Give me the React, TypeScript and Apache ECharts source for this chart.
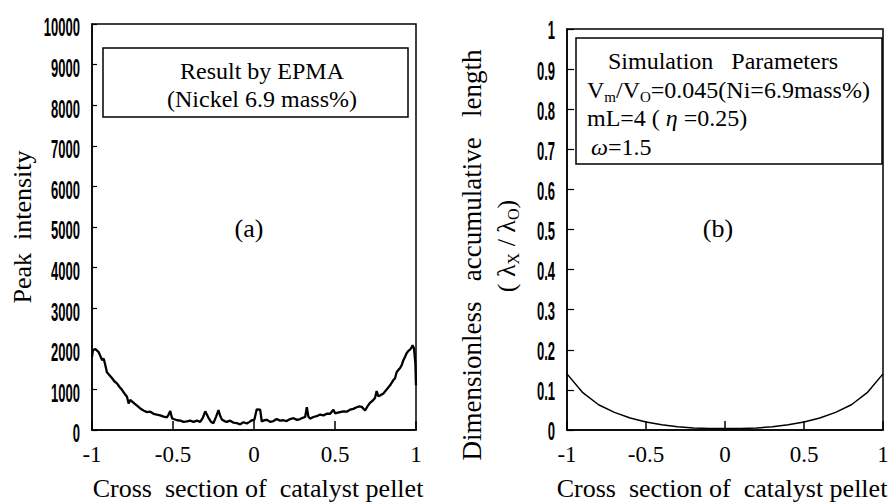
import React, { useEffect, useRef } from "react";
import * as echarts from "echarts";

const xTicks = [-1, -0.5, 0, 0.5, 1];
const leftYTicks = [0, 1000, 2000, 3000, 4000, 5000, 6000, 7000, 8000, 9000, 10000];
const rightYTicks = ["0", "0.1", "0.2", "0.3", "0.4", "0.5", "0.6", "0.7", "0.8", "0.9", "1"];

const epmaX = [-1, -0.994, -0.979, -0.959, -0.938, -0.928, -0.918, -0.908, -0.892, -0.877, -0.862, -0.846, -0.83, -0.815, -0.8, -0.784, -0.774, -0.764, -0.743, -0.722, -0.702, -0.682, -0.661, -0.64, -0.62, -0.6, -0.579, -0.558, -0.538, -0.527, -0.517, -0.506, -0.496, -0.475, -0.455, -0.434, -0.414, -0.394, -0.373, -0.352, -0.332, -0.316, -0.301, -0.291, -0.281, -0.265, -0.25, -0.234, -0.219, -0.209, -0.198, -0.183, -0.168, -0.147, -0.126, -0.106, -0.085, -0.065, -0.044, -0.028, -0.013, 0.002, 0.017, 0.038, 0.048, 0.063, 0.079, 0.1, 0.12, 0.14, 0.161, 0.181, 0.202, 0.223, 0.244, 0.265, 0.285, 0.3, 0.316, 0.326, 0.336, 0.346, 0.367, 0.387, 0.408, 0.429, 0.449, 0.47, 0.49, 0.501, 0.511, 0.531, 0.552, 0.572, 0.593, 0.613, 0.634, 0.65, 0.665, 0.686, 0.7, 0.716, 0.732, 0.747, 0.757, 0.768, 0.778, 0.799, 0.819, 0.84, 0.86, 0.87, 0.881, 0.891, 0.901, 0.912, 0.922, 0.932, 0.942, 0.953, 0.963, 0.971, 0.979, 0.988, 0.996, 1];
const epmaY = [1800, 1970, 1990, 1920, 1720, 1760, 1600, 1420, 1350, 1280, 1200, 1150, 1060, 990, 900, 820, 650, 740, 670, 600, 530, 480, 440, 450, 400, 380, 360, 330, 310, 380, 470, 290, 270, 240, 230, 200, 210, 230, 200, 230, 200, 300, 460, 380, 300, 200, 170, 330, 490, 350, 260, 220, 200, 230, 180, 170, 140, 190, 160, 200, 240, 250, 510, 500, 210, 240, 250, 200, 220, 270, 230, 240, 220, 270, 290, 250, 270, 300, 320, 560, 330, 280, 320, 340, 380, 360, 400, 400, 500, 410, 420, 440, 460, 450, 500, 520, 560, 580, 570, 480, 580, 670, 720, 790, 960, 830, 850, 900, 1000, 1100, 1230, 1270, 1430, 1480, 1520, 1600, 1720, 1800, 1890, 1950, 1980, 2020, 2090, 2000, 1650, 1100];

const simX = [-1, -0.9, -0.8, -0.7, -0.6, -0.5, -0.4, -0.3, -0.2, -0.1, 0, 0.1, 0.2, 0.3, 0.4, 0.5, 0.6, 0.7, 0.8, 0.9, 1];
const simY = [0.14, 0.093, 0.063, 0.044, 0.03, 0.02, 0.013, 0.008, 0.005, 0.004, 0.004, 0.004, 0.005, 0.008, 0.013, 0.02, 0.03, 0.044, 0.063, 0.093, 0.14];

const SERIF = '"Liberation Serif", "Times New Roman", serif';
const SANS = '"Liberation Sans", Arial, sans-serif';

export default function App() {
  const ref = useRef<HTMLDivElement>(null);
  useEffect(() => {
    if (!ref.current) return;
    const chart = echarts.init(ref.current, null, { renderer: "svg" });
    const axisLine = { show: true, onZero: false, lineStyle: { color: "#000", width: 1.5 } };
    const xAxisFor = (gi: number) => ({
      gridIndex: gi,
      type: "value",
      min: xTicks[0],
      max: xTicks[xTicks.length - 1],
      interval: 0.5,
      axisLine,
      splitLine: { show: false },
      axisTick: { show: true, inside: true, length: 9, lineStyle: { color: "#000", width: 1.5 } },
      axisLabel: {
        color: "#000",
        fontFamily: SERIF,
        fontSize: 23,
        margin: 13,
        formatter: (v: number) => String(v),
      },
    });
    chart.setOption({
      animation: false,
      backgroundColor: "#fff",
      grid: [
        { left: 92, top: 24, width: 324, height: 406, show: true, borderColor: "#000", borderWidth: 1.5 },
        { left: 567, top: 29, width: 316, height: 401, show: true, borderColor: "#000", borderWidth: 1.5 },
      ],
      xAxis: [xAxisFor(0), xAxisFor(1)],
      yAxis: [
        {
          gridIndex: 0,
          type: "value",
          min: 0,
          max: 10000,
          interval: 1000,
          axisLine,
          splitLine: { show: false },
          axisTick: { show: true, inside: true, length: 5, lineStyle: { color: "#000", width: 1.2 } },
          axisLabel: { show: false },
        },
        {
          gridIndex: 1,
          type: "value",
          min: 0,
          max: 1,
          interval: 0.1,
          axisLine,
          splitLine: { show: false },
          axisTick: { show: true, inside: true, length: 7, lineStyle: { color: "#000", width: 1.2 } },
          axisLabel: { show: false },
        },
      ],
      series: [
        {
          type: "line",
          xAxisIndex: 0,
          yAxisIndex: 0,
          data: epmaX.map((x, i) => [x, epmaY[i]]),
          showSymbol: false,
          lineStyle: { color: "#000", width: 2.3 },
        },
        {
          type: "line",
          xAxisIndex: 1,
          yAxisIndex: 1,
          data: simX.map((x, i) => [x, simY[i]]),
          showSymbol: false,
          lineStyle: { color: "#000", width: 1.5 },
        },
      ],
    });

    const tickLabel = (text: string, px: number[], dy: number) => ({
      type: "text",
      x: px[0] - 12,
      y: px[1] + dy,
      scaleX: 0.5,
      style: {
        text,
        x: 0,
        y: 0,
        fill: "#000",
        fontFamily: SANS,
        fontWeight: "bold",
        fontSize: 26,
        align: "right",
        verticalAlign: "middle",
      },
    });
    const txt = (text: string, x: number, y: number, size: number, align = "center", extra: any = {}) => ({
      type: "text",
      x,
      y,
      ...extra,
      style: {
        text,
        x: 0,
        y: 0,
        fill: "#000",
        fontFamily: SERIF,
        fontSize: size,
        align,
        verticalAlign: "middle",
      },
    });
    const richBase = {
      n: { fontFamily: SERIF, fontSize: 24, lineHeight: 28, verticalAlign: "middle" },
      s: { fontFamily: SERIF, fontSize: 15, lineHeight: 13, verticalAlign: "bottom" },
      i: { fontFamily: SERIF, fontSize: 24, fontStyle: "italic", lineHeight: 28, verticalAlign: "middle" },
    };

    const graphics: any[] = [];
    leftYTicks.forEach((v) => {
      graphics.push(tickLabel(String(v), chart.convertToPixel({ gridIndex: 0 }, [-1, v]) as number[], 3));
    });
    rightYTicks.forEach((v) => {
      graphics.push(tickLabel(v, chart.convertToPixel({ gridIndex: 1 }, [-1, Number(v)]) as number[], 1));
    });

    // legend boxes
    graphics.push({ type: "rect", shape: { x: 103, y: 48, width: 305, height: 69 }, style: { fill: "#fff", stroke: "#000", lineWidth: 1.5 } });
    graphics.push(txt("Result by EPMA", 262, 71, 24));
    graphics.push(txt("(Nickel 6.9 mass%)", 262, 99, 24));
    graphics.push(txt("(a)", 249, 228, 26));

    graphics.push({ type: "rect", shape: { x: 576, y: 38, width: 306, height: 126 }, style: { fill: "#fff", stroke: "#000", lineWidth: 1.5 } });
    graphics.push(txt("Simulation   Parameters", 723, 61, 24));
    graphics.push({
      type: "text",
      x: 587,
      y: 90,
      style: {
        text: "{n|V}{s|m}{n|/V}{s|O}{n|=0.045(Ni=6.9mass%)}",
        rich: richBase,
        fill: "#000",
        align: "left",
        verticalAlign: "middle",
      },
    });
    graphics.push({
      type: "text",
      x: 587,
      y: 118,
      style: {
        text: "{n|mL=4 ( }{i|η}{n| =0.25)}",
        rich: richBase,
        fill: "#000",
        align: "left",
        verticalAlign: "middle",
      },
    });
    graphics.push({
      type: "text",
      x: 591,
      y: 147,
      style: {
        text: "{i|ω}{n|=1.5}",
        rich: richBase,
        fill: "#000",
        align: "left",
        verticalAlign: "middle",
      },
    });
    graphics.push(txt("(b)", 718, 228, 26));

    // axis titles
    graphics.push(txt("Cross  section of  catalyst pellet", 258, 488, 26));
    graphics.push(txt("Cross  section of  catalyst pellet", 722, 488, 26));
    graphics.push(txt("Peak  intensity", 22, 227, 26, "center", { rotation: Math.PI / 2 }));
    graphics.push(txt("Dimensionless   accumulative   length", 472, 255, 27, "center", { rotation: Math.PI / 2 }));
    graphics.push({
      type: "text",
      x: 506,
      y: 246,
      rotation: Math.PI / 2,
      style: {
        text: "{n|( λ}{s|X}{n| / λ}{s|O}{n|)}",
        rich: {
          n: { fontFamily: SERIF, fontSize: 26, lineHeight: 30, verticalAlign: "middle" },
          s: { fontFamily: SERIF, fontSize: 16, lineHeight: 14, verticalAlign: "bottom" },
        },
        fill: "#000",
        align: "center",
        verticalAlign: "middle",
      },
    });

    chart.setOption({ graphic: graphics });
    return () => chart.dispose();
  }, []);
  return <div ref={ref} style={{ width: 892, height: 502, position: "absolute", left: 0, top: 0 }} />;
}
